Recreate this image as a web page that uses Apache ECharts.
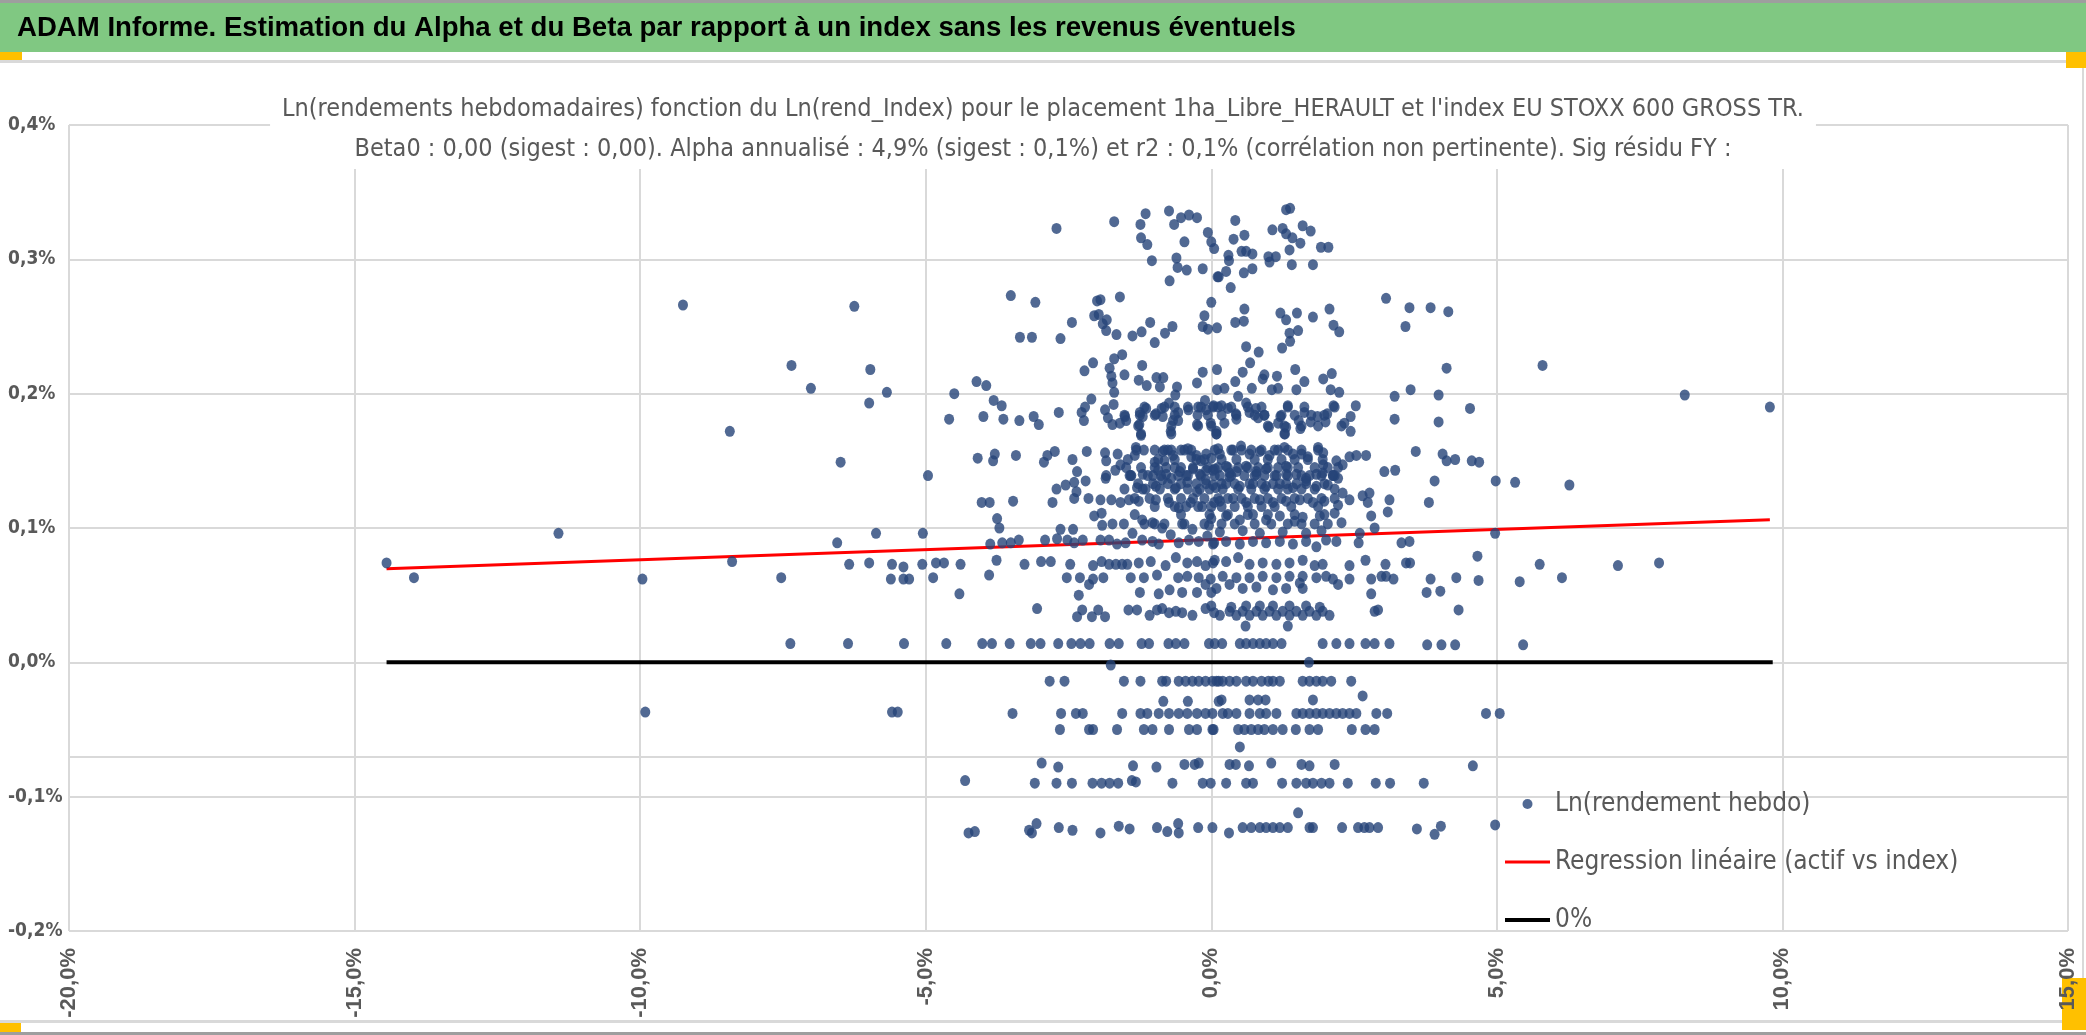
<!DOCTYPE html>
<html>
<head>
<meta charset="utf-8">
<title>ADAM Informe - Alpha et Beta</title>
<script src="https://cdn.jsdelivr.net/npm/echarts@6/dist/echarts.min.js"></script>
<style>
  html, body { margin: 0; padding: 0; background: #fff; }
  #main { width: 2086px; height: 1035px; }
</style>
</head>
<body>
<div id="main"></div>
<script>
// points, x = Ln(rend_Index) in %, y = Ln(rendement hebdo) in %
const farLeft = [
  [-9.25,0.266],[-6.25,0.265],[-7.35,0.221],[-5.97,0.218],[-7.01,0.204],[-5.68,0.201],[-5.99,0.193],
  [-4.50,0.200],[-4.11,0.209],[-3.94,0.206],[-3.81,0.195],[-3.67,0.191],[-4.59,0.181],[-3.99,0.183],
  [-3.64,0.181],[-8.43,0.172],[-6.49,0.149],[-4.96,0.139],[-4.09,0.152],[-3.79,0.155],[-3.82,0.150],
  [-4.02,0.119],[-3.88,0.119],[-3.75,0.107],[-3.71,0.100],[-11.43,0.096],[-6.55,0.089],[-5.87,0.096],
  [-5.05,0.096],[-3.87,0.088],[-3.66,0.089],[-14.44,0.074],[-13.96,0.063],[-9.96,0.062],[-8.39,0.075],
  [-7.53,0.063],[-6.34,0.073],[-5.99,0.074],[-5.59,0.073],[-5.39,0.071],[-5.61,0.062],[-5.39,0.062],
  [-5.29,0.062],[-5.06,0.073],[-4.82,0.074],[-4.68,0.074],[-4.39,0.073],[-4.87,0.063],[-4.41,0.051],
  [-3.89,0.065],[-3.76,0.076],[-7.37,0.014],[-6.36,0.014],[-5.38,0.014],[-4.64,0.014],[-4.01,0.014],
  [-3.84,0.014],[-9.91,-0.037],[-5.59,-0.037],[-5.49,-0.037],[-4.31,-0.088],[-4.25,-0.127],[-4.14,-0.126]
];

const farRight = [
  [3.84,0.264],[4.15,0.261],[4.12,0.219],[5.80,0.221],[3.98,0.199],[4.53,0.189],[8.29,0.199],[9.78,0.190],
  [3.98,0.179],[4.05,0.155],[4.12,0.150],[4.27,0.151],[4.56,0.150],[4.69,0.149],[3.91,0.135],[4.98,0.135],
  [5.32,0.134],[6.27,0.132],[3.81,0.119],[4.97,0.096],[4.66,0.079],[3.84,0.062],[3.77,0.052],[4.01,0.053],
  [4.29,0.063],[4.68,0.061],[4.33,0.039],[5.40,0.060],[5.75,0.073],[6.14,0.063],[7.12,0.072],[7.84,0.074],
  [3.78,0.013],[4.03,0.013],[4.27,0.013],[5.46,0.013],[4.81,-0.038],[5.05,-0.038],[4.58,-0.077],
  [3.72,-0.090],[3.60,-0.124],[3.91,-0.128],[4.02,-0.122],[4.97,-0.121]
];

const coreUpperLeft = [
  [-2.71,0.323],[-1.70,0.328],[-1.24,0.326],[-1.15,0.334],[-0.74,0.336],[-0.65,0.326],[-0.53,0.331],
  [-0.39,0.333],[-0.25,0.331],[-1.23,0.316],[-1.12,0.311],[-0.47,0.313],[-0.06,0.320],[0.00,0.313],
  [0.05,0.308],[-1.04,0.299],[-0.61,0.301],[-0.59,0.294],[-0.43,0.292],[-0.15,0.293],[-0.73,0.284],
  [0.11,0.287],[-3.51,0.273],[-3.08,0.268],[-2.00,0.269],[-1.94,0.270],[-1.60,0.272],[0.00,0.268],
  [-2.05,0.258],[-1.97,0.259],[-1.90,0.252],[-1.83,0.255],[-1.84,0.247],[-2.44,0.253],[-3.35,0.242],
  [-3.14,0.242],[-2.64,0.241],[-1.66,0.244],[-1.38,0.243],[-1.22,0.246],[-1.07,0.253],[-0.99,0.238],
  [-0.81,0.245],[-0.68,0.250],[-0.12,0.258],[-0.15,0.250],[-0.06,0.248],[0.10,0.249],
  [-2.22,0.217],[-2.07,0.223],[-1.70,0.226],[-1.56,0.229],[-1.78,0.219],[-1.75,0.213],[-1.73,0.208],
  [-1.70,0.201],[-1.52,0.214],[-1.21,0.221],[-1.27,0.210],[-1.13,0.206],[-0.96,0.212],[-0.84,0.212],
  [-0.90,0.205],[-0.60,0.205],[-0.63,0.199],[-0.25,0.208],[-0.15,0.216],[0.10,0.218],[0.10,0.203],
  [-2.10,0.196],[-1.71,0.192],[-2.21,0.190],[-2.27,0.186],[-2.23,0.180],[-2.67,0.186],[-3.36,0.180],
  [-3.11,0.183],[-3.02,0.177],[-1.86,0.188],[-1.81,0.182],[-1.73,0.177],[-1.60,0.178],[-1.51,0.183],
  [-1.49,0.180],[-1.25,0.186],[-1.14,0.189],[-1.20,0.183],[-1.26,0.177],[-1.23,0.169],[-0.97,0.185],
  [-0.87,0.189],[-0.85,0.183],[-0.74,0.193],[-0.71,0.172],[-0.67,0.180],[-0.58,0.186],[-0.58,0.180],
  [-0.40,0.188],[-0.23,0.190],[-0.24,0.184],[-0.25,0.177],[-0.11,0.195],[-0.09,0.188],[0.04,0.191],
  [-0.01,0.178],[0.09,0.172],
  [-3.42,0.154],[-2.93,0.149],[-2.87,0.154],[-2.74,0.157],[-2.43,0.151],[-2.35,0.142],[-2.18,0.157],
  [-1.86,0.156],[-1.84,0.150],[-1.64,0.155],[-1.59,0.147],[-1.68,0.143],[-1.84,0.139],[-1.32,0.160],
  [-1.34,0.154],[-1.18,0.158],[-1.43,0.139],[-1.20,0.140],
  [-0.99,0.149],[-0.85,0.157],[-0.76,0.158],[-0.67,0.154],[-0.82,0.150],[-0.93,0.143],[-0.79,0.140],
  [-0.64,0.145],[-0.53,0.158],[-0.41,0.159],[-0.35,0.153],[-0.26,0.154],[-0.18,0.150],[-0.09,0.155],
  [0.00,0.152],[0.12,0.159],[-0.55,0.142],[-0.44,0.139],[-0.32,0.144],[-0.20,0.140],[-0.09,0.143],
  [0.06,0.144],[0.15,0.139],[-0.70,0.137],[-1.02,0.139]
];

const coreUpperRight = [
  [1.31,0.337],[1.38,0.338],[0.42,0.329],[0.39,0.315],[0.58,0.318],[1.07,0.322],[1.25,0.323],[1.31,0.319],
  [1.42,0.316],[1.60,0.325],[1.74,0.321],[1.56,0.312],[1.37,0.307],[1.92,0.309],[2.05,0.309],[0.30,0.303],
  [0.31,0.299],[0.53,0.306],[0.61,0.306],[0.72,0.304],[1.00,0.302],[1.02,0.298],[1.13,0.302],[1.41,0.296],
  [1.78,0.296],[0.13,0.287],[0.26,0.291],[0.57,0.290],[0.72,0.293],[0.34,0.279],[0.58,0.263],[0.42,0.253],
  [0.57,0.254],[1.21,0.260],[1.31,0.255],[1.50,0.260],[1.78,0.257],[2.07,0.263],[2.14,0.251],[2.24,0.246],
  [1.52,0.247],[1.37,0.245],[1.38,0.239],[1.24,0.234],[3.06,0.271],[3.47,0.264],[3.40,0.250],[0.61,0.235],
  [0.83,0.231],[0.68,0.223],[0.55,0.216],[0.42,0.209],[0.23,0.204],[0.71,0.204],[0.90,0.211],[0.93,0.214],
  [1.15,0.213],[1.06,0.203],[1.17,0.204],[1.47,0.218],[1.63,0.209],[1.49,0.203],[1.96,0.211],[2.11,0.215],
  [2.09,0.203],[2.24,0.201],[3.21,0.198],[3.49,0.203],[3.21,0.181],[3.58,0.157],[3.03,0.142],[3.22,0.143],
  [0.03,0.190],[0.18,0.191],[0.29,0.189],[0.47,0.198],[0.43,0.185],[0.44,0.181],[0.61,0.193],[0.67,0.186],
  [0.78,0.189],[0.82,0.182],[0.93,0.184],[1.01,0.175],[1.17,0.178],[1.21,0.183],[1.31,0.175],[1.29,0.170],
  [1.34,0.191],[1.53,0.180],[1.56,0.174],[1.63,0.186],[1.74,0.179],[1.86,0.183],[2.00,0.179],[2.03,0.185],
  [2.14,0.191],[2.33,0.178],[2.44,0.183],[2.44,0.172],[2.53,0.191],[0.09,0.170],[0.23,0.178],
  [0.15,0.155],[0.38,0.158],[0.52,0.161],[0.67,0.155],[0.85,0.157],[1.02,0.154],[1.17,0.158],[1.28,0.160],
  [1.43,0.155],[1.58,0.155],[1.69,0.153],[1.87,0.160],[1.96,0.156],[1.96,0.147],[2.19,0.150],[2.30,0.147],
  [2.42,0.153],[2.54,0.154],[2.71,0.154],[0.03,0.143],[0.26,0.146],[0.44,0.142],[0.61,0.146],[0.79,0.140],
  [0.96,0.144],[1.14,0.139],[1.31,0.146],[1.49,0.140],[1.66,0.137],[1.84,0.140],[2.13,0.139],[2.22,0.137],
  [0.32,0.138]
];

// the solid blob around 0.10%-0.19%, read from a close-up
const coreDense = [
  [-1.17,0.190],[-0.82,0.190],[-0.64,0.190],[-0.41,0.190],[-0.18,0.190],[0.12,0.190],[0.35,0.190],
  [0.64,0.190],[0.88,0.190],[1.34,0.190],[1.63,0.190],[2.16,0.190],
  [-1.52,0.184],[-1.25,0.184],[-0.99,0.184],[-0.64,0.184],[-0.06,0.184],[0.18,0.184],[0.44,0.184],
  [0.76,0.184],[0.93,0.184],[1.23,0.184],[1.46,0.184],[1.75,0.184],[1.98,0.184],
  [-1.28,0.176],[-0.70,0.176],[-0.23,0.176],[0.00,0.176],[0.99,0.176],[1.28,0.176],[1.58,0.176],
  [1.87,0.176],[2.28,0.176],
  [-1.23,0.170],[-0.70,0.170],[0.09,0.170],[1.28,0.170],
  [-1.31,0.158],[-0.99,0.158],[-0.82,0.158],[-0.70,0.158],[-0.47,0.158],[-0.35,0.158],[0.06,0.158],
  [0.35,0.158],[0.53,0.158],[0.70,0.158],[0.88,0.158],[1.11,0.158],[1.34,0.158],[1.58,0.158],[1.87,0.158],
  [-1.46,0.151],[-0.93,0.151],[-0.64,0.151],[-0.26,0.151],[-0.12,0.151],[0.18,0.151],[0.44,0.151],
  [0.76,0.151],[0.99,0.151],[1.23,0.151],[1.46,0.151],[1.69,0.151],[1.95,0.151],
  [-1.49,0.145],[-1.23,0.145],[-0.99,0.145],[-0.79,0.145],[-0.53,0.145],[-0.32,0.145],[-0.06,0.145],
  [0.12,0.145],[0.29,0.145],[0.47,0.145],[0.64,0.145],[0.82,0.145],[0.99,0.145],[1.17,0.145],[1.34,0.145],
  [1.52,0.145],[1.81,0.145],[2.04,0.145],[2.22,0.145],
  [-1.40,0.139],[-1.11,0.139],[-0.88,0.139],[-0.58,0.139],[-0.41,0.139],[-0.18,0.139],[0.06,0.139],
  [0.35,0.139],[0.58,0.139],[0.76,0.139],[0.93,0.139],[1.11,0.139],[1.34,0.139],[1.58,0.139],[1.72,0.139],
  [1.93,0.139],[2.13,0.139],
  [-1.28,0.133],[-1.02,0.133],[-0.76,0.133],[-0.53,0.133],[-0.26,0.133],[-0.09,0.133],[0.18,0.133],
  [0.41,0.133],[0.67,0.133],[0.88,0.133],[1.08,0.133],[1.31,0.133],[1.49,0.133],[1.66,0.133],[1.98,0.133],
  [-1.52,0.129],[-1.20,0.129],[-0.90,0.129],[-0.64,0.129],[-0.41,0.129],[-0.20,0.129],[-0.03,0.129],
  [0.20,0.129],[0.47,0.129],[0.70,0.129],[0.93,0.129],[1.17,0.129],[1.34,0.129],[1.58,0.129],[1.81,0.129],
  [2.16,0.129],
  [-1.34,0.122],[-1.08,0.122],[-0.76,0.122],[-0.53,0.122],[-0.32,0.122],[-0.12,0.122],[0.12,0.122],
  [0.29,0.122],[0.53,0.122],[0.76,0.122],[0.99,0.122],[1.23,0.122],[1.46,0.122],[1.69,0.122],[1.93,0.122],
  [2.16,0.122],
  [-0.99,0.116],[-0.64,0.116],[-0.44,0.116],[-0.23,0.116],[0.00,0.116],[0.18,0.116],[0.41,0.116],
  [0.64,0.116],[0.88,0.116],[1.11,0.116],[1.40,0.116],[1.87,0.116],
  [-1.34,0.110],[-0.53,0.110],[-0.03,0.110],[0.29,0.110],[0.64,0.110],[0.99,0.110],[1.46,0.110],[1.98,0.110],
  [-1.17,0.103],[-0.99,0.103],[-0.82,0.103],[-0.47,0.103],[-0.12,0.103],[0.18,0.103],[0.41,0.103],
  [0.76,0.103],[1.05,0.103],[1.34,0.103],[1.58,0.103],[1.81,0.103],[2.04,0.103]
];

const coreLowerLeft = [
  [-3.53,0.014],[-3.16,0.014],[-2.99,0.014],[-2.68,0.014],[-2.45,0.014],[-2.29,0.014],[-2.13,0.014],
  [-1.78,0.014],[-1.62,0.014],[-1.22,0.014],[-1.09,0.014],[-0.75,0.014],[-0.62,0.014],[-0.47,0.014],
  [-0.04,0.014],[0.06,0.014],[-1.76,-0.002],
  [-2.83,-0.014],[-2.57,-0.014],[-1.53,-0.014],[-1.24,-0.014],[-0.86,-0.014],[-0.79,-0.014],[-0.57,-0.014],
  [-0.45,-0.014],[-0.33,-0.014],[-0.22,-0.014],[-0.10,-0.014],[0.02,-0.014],[0.13,-0.014],
  [-0.84,-0.029],[-0.41,-0.029],[0.13,-0.029],
  [-3.48,-0.038],[-2.63,-0.038],[-2.37,-0.038],[-2.25,-0.038],[-1.56,-0.038],[-1.24,-0.038],[-1.12,-0.038],
  [-0.92,-0.038],[-0.74,-0.038],[-0.57,-0.038],[-0.42,-0.038],[-0.25,-0.038],[-0.10,-0.038],[0.02,-0.038],
  [-2.65,-0.050],[-2.14,-0.050],[-2.07,-0.050],[-1.65,-0.050],[-1.18,-0.050],[-1.03,-0.050],[-0.74,-0.050],
  [-0.39,-0.050],[-0.25,-0.050],[0.02,-0.050],
  [-2.97,-0.075],[-2.68,-0.078],[-1.37,-0.077],[-0.96,-0.078],[-0.47,-0.076],[-0.29,-0.076],[-0.22,-0.075],
  [-3.09,-0.090],[-2.71,-0.090],[-2.44,-0.090],[-2.08,-0.090],[-1.92,-0.090],[-1.78,-0.090],[-1.63,-0.090],
  [-1.39,-0.088],[-1.32,-0.089],[-0.68,-0.090],[-0.15,-0.090],[-0.01,-0.090],
  [-3.19,-0.125],[-3.06,-0.120],[-3.14,-0.127],[-2.67,-0.123],[-2.43,-0.125],[-1.94,-0.127],[-1.62,-0.122],
  [-1.43,-0.124],[-0.95,-0.123],[-0.77,-0.126],[-0.58,-0.120],[-0.57,-0.127],[-0.23,-0.123],[0.02,-0.123],
  [-2.35,0.034],[-2.26,0.039],[-2.09,0.034],[-1.98,0.039],[-1.86,0.034],[-1.45,0.039],[-1.30,0.039],
  [-1.08,0.035],[-0.95,0.039],[-0.86,0.040],[-0.74,0.037],[-0.62,0.038],[-0.51,0.037],[-0.33,0.035],
  [-0.10,0.040],[0.05,0.037],[-3.05,0.040],
  [-2.32,0.050],[-1.25,0.052],[-0.92,0.051],[-0.73,0.054],[-0.51,0.052],[-0.25,0.052],[0.00,0.052],
  [-2.53,0.063],[-2.30,0.063],[-2.14,0.058],[-2.07,0.062],[-1.89,0.063],[-1.41,0.063],[-1.18,0.063],
  [-0.95,0.065],[-0.58,0.063],[-0.42,0.064],[-0.22,0.063],[-0.01,0.062],[-0.10,0.058],
  [-3.27,0.073],[-2.98,0.075],[-2.81,0.075],[-2.47,0.073],[-2.07,0.072],[-1.92,0.075],[-1.79,0.073],
  [-1.67,0.073],[-1.56,0.073],[-1.47,0.073],[-1.27,0.074],[-1.06,0.075],[-0.80,0.072],[-0.62,0.078],
  [-0.42,0.074],[-0.25,0.075],[-0.10,0.072],[0.06,0.076],
  [-3.51,0.089],[-3.37,0.091],[-2.91,0.091],[-2.70,0.092],[-2.52,0.091],[-2.40,0.089],[-2.25,0.091],
  [-1.94,0.091],[-1.79,0.091],[-1.65,0.088],[-1.50,0.089],[-1.38,0.096],[-1.21,0.091],[-1.03,0.090],
  [-0.92,0.088],[-0.71,0.095],[-0.57,0.089],[-0.39,0.091],[-0.22,0.090],[-0.07,0.094],[0.05,0.089],
  [-2.64,0.099],[-2.42,0.099],[-1.91,0.102],[-1.73,0.103],[-1.53,0.103],[-1.21,0.106],[-1.03,0.104],
  [-0.86,0.100],[-0.51,0.103],[-0.33,0.099],[-0.04,0.102],[-2.05,0.109],[-1.92,0.111],
  [-3.47,0.120],[-2.78,0.119],[-2.40,0.122],[-2.15,0.122],[-1.94,0.121],[-1.75,0.121],[-1.59,0.119],
  [-1.44,0.121],[-1.27,0.120],[-0.97,0.121],[-0.74,0.119],[-0.57,0.115],[-0.36,0.119],[-0.16,0.116],
  [0.05,0.119],
  [-2.71,0.129],[-2.55,0.132],[-2.40,0.134],[-2.36,0.127],[-2.20,0.135],[-1.85,0.137],[-1.41,0.139],
  [-1.30,0.130],[-1.15,0.129],[-0.97,0.131],[-0.86,0.136],[-0.62,0.130],[-0.42,0.134],[-0.25,0.127],
  [-0.10,0.136],[0.08,0.130]
];

const coreLowerRight = [
  [0.19,0.014],[0.50,0.014],[0.61,0.014],[0.73,0.014],[0.85,0.014],[0.96,0.014],[1.08,0.014],[1.23,0.014],
  [1.95,0.014],[2.19,0.014],[2.42,0.014],[2.70,0.014],[2.86,0.014],[3.12,0.014],[1.71,0.000],
  [0.09,-0.014],[0.20,-0.014],[0.32,-0.014],[0.44,-0.014],[0.61,-0.014],[0.73,-0.014],[0.88,-0.014],
  [1.00,-0.014],[1.08,-0.014],[1.20,-0.014],[1.60,-0.014],[1.72,-0.014],[1.84,-0.014],[1.95,-0.014],
  [2.10,-0.014],[2.45,-0.014],
  [0.18,-0.028],[0.67,-0.028],[0.82,-0.028],[0.95,-0.028],[1.78,-0.028],[2.65,-0.025],
  [0.20,-0.038],[0.29,-0.038],[0.44,-0.038],[0.67,-0.038],[0.85,-0.038],[0.96,-0.038],[1.14,-0.038],
  [1.49,-0.038],[1.60,-0.038],[1.72,-0.038],[1.84,-0.038],[1.95,-0.038],[2.07,-0.038],[2.19,-0.038],
  [2.30,-0.038],[2.42,-0.038],[2.54,-0.038],[2.89,-0.038],[3.08,-0.038],
  [0.04,-0.050],[0.47,-0.050],[0.58,-0.050],[0.70,-0.050],[0.82,-0.050],[0.93,-0.050],[1.08,-0.050],
  [1.25,-0.050],[1.48,-0.050],[1.72,-0.050],[1.87,-0.050],[2.46,-0.050],[2.70,-0.050],[2.86,-0.050],
  [0.50,-0.063],
  [0.32,-0.076],[0.43,-0.076],[0.66,-0.077],[1.05,-0.075],[1.58,-0.076],[1.72,-0.077],[2.16,-0.076],
  [0.26,-0.090],[0.61,-0.090],[0.73,-0.090],[1.24,-0.090],[1.49,-0.090],[1.66,-0.090],[1.78,-0.090],
  [1.93,-0.090],[2.07,-0.090],[2.39,-0.090],[2.88,-0.090],[3.13,-0.090],[1.52,-0.112],
  [0.31,-0.127],[0.55,-0.123],[0.70,-0.123],[0.85,-0.123],[0.96,-0.123],[1.08,-0.123],[1.20,-0.123],
  [1.34,-0.123],[1.72,-0.123],[1.78,-0.123],[2.29,-0.123],[2.57,-0.123],[2.68,-0.123],[2.77,-0.123],
  [2.92,-0.123],
  [0.15,0.035],[0.32,0.038],[0.44,0.035],[0.55,0.038],[0.67,0.035],[0.79,0.038],[0.90,0.035],[1.02,0.038],
  [1.14,0.035],[1.25,0.038],[1.37,0.035],[1.49,0.038],[1.60,0.035],[1.72,0.038],[1.84,0.035],[1.95,0.038],
  [2.07,0.035],[0.60,0.027],[1.34,0.027],[2.92,0.039],[2.86,0.038],
  [0.00,0.042],[0.35,0.041],[0.61,0.042],[0.85,0.042],[1.08,0.042],[1.37,0.042],[1.66,0.042],[1.90,0.041],
  [0.09,0.055],[0.32,0.058],[0.55,0.055],[0.79,0.056],[1.08,0.054],[1.31,0.055],[1.60,0.055],[1.55,0.059],
  [2.80,0.051],[2.22,0.058],
  [0.20,0.064],[0.44,0.063],[0.67,0.063],[0.90,0.064],[1.14,0.063],[1.37,0.064],[1.60,0.064],[1.84,0.063],
  [2.01,0.064],[2.13,0.062],[2.42,0.062],[2.80,0.062],[2.98,0.064],[3.06,0.064],[3.19,0.062],
  [0.03,0.074],[0.26,0.075],[0.47,0.078],[0.67,0.073],[0.90,0.074],[1.14,0.073],[1.37,0.074],[1.60,0.076],
  [1.81,0.072],[1.95,0.073],[2.42,0.072],[2.70,0.076],[3.05,0.073],[3.41,0.074],[3.48,0.074],
  [0.03,0.088],[0.26,0.090],[0.50,0.088],[0.73,0.090],[0.96,0.089],[1.20,0.090],[1.43,0.088],[1.66,0.090],
  [1.84,0.086],[2.01,0.091],[2.19,0.090],[2.58,0.089],[3.33,0.089],[3.47,0.090],
  [2.60,0.096],[2.86,0.100],[0.15,0.097],[0.55,0.098],[0.85,0.096],[1.25,0.097],[1.66,0.096],[1.93,0.098],
  [0.00,0.107],[0.26,0.109],[0.50,0.106],[0.73,0.110],[0.96,0.106],[1.20,0.109],[1.46,0.105],[1.60,0.108],
  [1.90,0.109],[2.16,0.111],[2.28,0.104],[2.80,0.109],
  [0.15,0.120],[0.38,0.122],[0.61,0.119],[0.85,0.121],[1.08,0.119],[1.31,0.120],[1.55,0.121],[1.78,0.119],
  [1.98,0.120],[2.22,0.117],[2.42,0.121],[2.65,0.124],[2.74,0.119],[3.12,0.121],[3.09,0.112],
  [0.03,0.132],[0.26,0.133],[0.50,0.131],[0.73,0.133],[0.96,0.131],[1.20,0.133],[1.43,0.130],[1.66,0.135],
  [1.84,0.131],[2.04,0.132],[2.30,0.126],[2.77,0.126],
  [0.32,0.141],[0.79,0.142],[1.31,0.140],[1.95,0.141],[2.16,0.139]
];

const regressionLine = [[-14.44, 0.0696], [9.78, 0.1062]];
const zeroLine = [[-14.44, 0], [9.83, 0]];
const extraGridY = -0.067;

const xTicks = { min: -20, max: 15, interval: 5 };
const yTicks = { min: -0.2, max: 0.4, interval: 0.1 };

const headerText = "ADAM Informe. Estimation du Alpha et du Beta par rapport à un index sans les revenus éventuels";
const titleLines = [
  "Ln(rendements hebdomadaires) fonction du Ln(rend_Index) pour le placement 1ha_Libre_HERAULT et l'index EU STOXX 600 GROSS TR.",
  "Beta0 : 0,00 (sigest : 0,00). Alpha annualisé : 4,9% (sigest : 0,1%) et r2 : 0,1% (corrélation non pertinente). Sig résidu FY :"
];
const seriesNames = ["Ln(rendement hebdo)", "Regression linéaire (actif vs index)", "0%"];

const NARROW = "'Liberation Sans Narrow', 'DejaVu Sans Condensed', 'Arial Narrow', sans-serif";
const ARIAL = "'Liberation Sans', Arial, sans-serif";
const GREY_TEXT = "#595959";
const GRID_COLOR = "#d9d9d9";

const pct = (v) => v.toFixed(1).replace(".", ",") + "%";

const scatterPoints = [].concat(farLeft, coreUpperLeft, coreUpperRight, coreDense, coreLowerLeft, coreLowerRight, farRight);

const chart = echarts.init(document.getElementById("main"));

const option = {
  backgroundColor: "#ffffff",
  animation: false,
  title: {
    text: titleLines.join("\n"),
    left: "center",
    top: 89,
    padding: [0, 12, 0, 12],
    backgroundColor: "#ffffff",
    textStyle: {
      fontFamily: NARROW,
      fontSize: 25,
      fontWeight: "normal",
      color: GREY_TEXT,
      lineHeight: 40,
    },
  },
  grid: { left: 69, top: 125, right: 18, bottom: 104, containLabel: false, outerBoundsMode: "none" },
  xAxis: {
    type: "value",
    min: xTicks.min,
    max: xTicks.max,
    interval: xTicks.interval,
    axisLine: { show: false },
    axisTick: { show: false },
    splitLine: { show: true, lineStyle: { color: GRID_COLOR, width: 2 } },
    axisLabel: {
      rotate: 90,
      margin: 17,
      formatter: pct,
      fontFamily: ARIAL,
      fontWeight: "bold",
      fontSize: 22,
      color: GREY_TEXT,
    },
  },
  yAxis: {
    type: "value",
    min: yTicks.min,
    max: yTicks.max,
    interval: yTicks.interval,
    axisLine: { show: false },
    axisTick: { show: false },
    splitLine: { show: true, lineStyle: { color: GRID_COLOR, width: 2 } },
    axisLabel: {
      margin: 61,
      align: "left",
      formatter: pct,
      fontFamily: NARROW,
      fontWeight: "bold",
      fontSize: 19,
      color: GREY_TEXT,
    },
  },
  legend: {
    orient: "vertical",
    left: 1500,
    top: 784,
    itemWidth: 45,
    itemHeight: 10,
    itemGap: 28,
    textStyle: { fontFamily: NARROW, fontSize: 26, color: GREY_TEXT, lineHeight: 30 },
    data: [
      { name: seriesNames[0], icon: "circle" },
      { name: seriesNames[1], icon: "path://M0,0H45V3H0Z" },
      { name: seriesNames[2], icon: "path://M0,0H45V4H0Z" },
    ],
  },
  series: [
    {
      name: seriesNames[0],
      type: "scatter",
      data: scatterPoints,
      symbol: "circle",
      symbolSize: [10, 11],
      itemStyle: { color: "#264478" },
      z: 4,
    },
    {
      name: seriesNames[1],
      type: "line",
      data: regressionLine,
      symbol: "none",
      lineStyle: { color: "#ff0000", width: 3 },
      itemStyle: { color: "#ff0000" },
      z: 3,
    },
    {
      name: seriesNames[2],
      type: "line",
      data: zeroLine,
      symbol: "none",
      lineStyle: { color: "#000000", width: 4 },
      itemStyle: { color: "#000000" },
      z: 3,
      markLine: {
        silent: true,
        symbol: ["none", "none"],
        label: { show: false },
        lineStyle: { color: GRID_COLOR, type: "solid", width: 2 },
        data: [{ yAxis: extraGridY }],
        z: 1,
      },
    },
  ],
  graphic: [
    { type: "rect", shape: { x: 0, y: 0, width: 2086, height: 3 }, style: { fill: "#9e9e9e" } },
    { type: "rect", shape: { x: 0, y: 3, width: 2086, height: 49 }, style: { fill: "#80c882" } },
    {
      type: "text",
      x: 17,
      y: 28,
      style: {
        text: headerText,
        fill: "#000000",
        font: "bold 27.6px " + ARIAL,
        textVerticalAlign: "middle",
      },
    },
    { type: "rect", shape: { x: 0, y: 60, width: 2086, height: 3 }, style: { fill: GRID_COLOR } },
    { type: "rect", shape: { x: 2082, y: 63, width: 2, height: 958 }, style: { fill: GRID_COLOR } },
    { type: "rect", shape: { x: 0, y: 1020, width: 2086, height: 3 }, style: { fill: GRID_COLOR } },
    { type: "rect", shape: { x: 0, y: 1032, width: 2086, height: 3 }, style: { fill: "#9e9e9e" } },
    { type: "rect", shape: { x: 0, y: 52, width: 22, height: 8 }, style: { fill: "#ffc000" } },
    { type: "rect", shape: { x: 2066, y: 52, width: 20, height: 16 }, style: { fill: "#ffc000" } },
    { type: "rect", shape: { x: 2062, y: 978, width: 24, height: 52 }, style: { fill: "#ffc000" } },
    { type: "rect", shape: { x: 0, y: 1023, width: 21, height: 9 }, style: { fill: "#ffc000" } },
  ],
};

chart.setOption(option);
</script>
</body>
</html>
